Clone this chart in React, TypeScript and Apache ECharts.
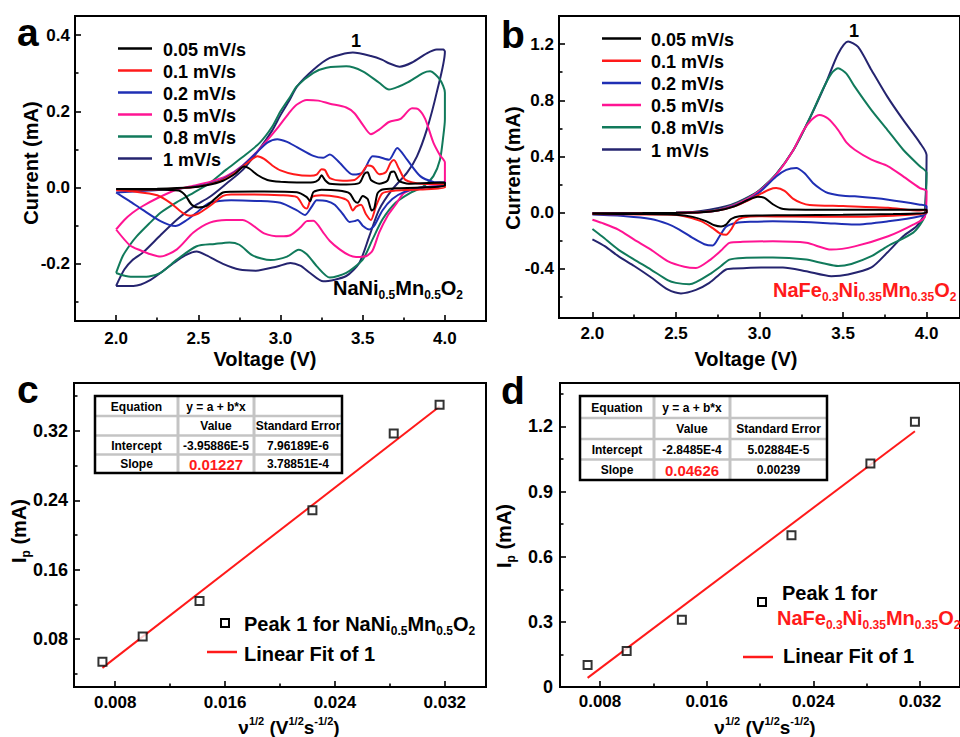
import React, { useEffect, useRef } from 'react';
import * as echarts from 'echarts';

const FONT = 'Arial, "Liberation Sans", Helvetica, sans-serif';

const SCAN_RATES = ['0.05 mV/s', '0.1 mV/s', '0.2 mV/s', '0.5 mV/s', '0.8 mV/s', '1 mV/s'];
const CV_COLORS = ['#000000', '#ff1a1a', '#1f2fb4', '#ff1493', '#117a5b', '#25246f'];

// ---------- Panel a: NaNi0.5Mn0.5O2 (voltage V, current mA) ----------
const A_005 = [
  [2.0, -0.004], [2.25, -0.003], [2.45, 0.0], [2.55, 0.006], [2.65, 0.018], [2.72, 0.035], [2.78, 0.055], [2.81, 0.05], [2.86, 0.033], [2.92, 0.02], [3.0, 0.015], [3.1, 0.013], [3.2, 0.014], [3.23, 0.02], [3.25, 0.032], [3.27, 0.02], [3.3, 0.01], [3.4, 0.008], [3.48, 0.012], [3.51, 0.036], [3.53, 0.04], [3.55, 0.02], [3.6, 0.01], [3.65, 0.018], [3.67, 0.04], [3.69, 0.042], [3.72, 0.018], [3.78, 0.01], [3.9, 0.012], [4.0, 0.013],
  [4.0, 0.005], [3.85, 0.0], [3.7, -0.002], [3.62, -0.005], [3.59, -0.015], [3.57, -0.055], [3.555, -0.06], [3.53, -0.03], [3.5, -0.022], [3.47, -0.04], [3.45, -0.035], [3.42, -0.015], [3.35, -0.008], [3.25, -0.006], [3.2, -0.012], [3.18, -0.036], [3.16, -0.025], [3.1, -0.012], [2.9, -0.01], [2.7, -0.011], [2.65, -0.013], [2.6, -0.03], [2.55, -0.048], [2.5, -0.052], [2.46, -0.045], [2.42, -0.02], [2.38, -0.008], [2.2, -0.005], [2.0, -0.004],
];
const A_01 = [
  [2.0, -0.006], [2.25, -0.005], [2.45, 0.0], [2.55, 0.007], [2.65, 0.02], [2.72, 0.038], [2.8, 0.065], [2.86, 0.082], [2.9, 0.075], [2.95, 0.058], [3.0, 0.045], [3.08, 0.035], [3.18, 0.031], [3.22, 0.034], [3.25, 0.048], [3.27, 0.046], [3.3, 0.025], [3.38, 0.018], [3.45, 0.02], [3.49, 0.035], [3.53, 0.058], [3.56, 0.055], [3.6, 0.035], [3.64, 0.04], [3.67, 0.065], [3.69, 0.072], [3.72, 0.05], [3.76, 0.02], [3.85, 0.01], [4.0, 0.009],
  [4.0, 0.0], [3.85, -0.005], [3.7, -0.008], [3.62, -0.015], [3.58, -0.05], [3.55, -0.085], [3.52, -0.07], [3.49, -0.045], [3.46, -0.05], [3.44, -0.06], [3.41, -0.035], [3.35, -0.025], [3.25, -0.02], [3.19, -0.025], [3.16, -0.055], [3.14, -0.05], [3.1, -0.025], [3.0, -0.02], [2.8, -0.018], [2.7, -0.018], [2.65, -0.022], [2.58, -0.045], [2.5, -0.068], [2.45, -0.074], [2.4, -0.065], [2.33, -0.04], [2.25, -0.02], [2.1, -0.01], [2.0, -0.007],
];
const A_02 = [
  [2.0, -0.013], [2.2, -0.008], [2.4, -0.002], [2.55, 0.008], [2.65, 0.022], [2.75, 0.05], [2.85, 0.09], [2.92, 0.118], [2.98, 0.127], [3.04, 0.12], [3.1, 0.106], [3.2, 0.083], [3.26, 0.078], [3.3, 0.087], [3.36, 0.065], [3.44, 0.034], [3.5, 0.04], [3.56, 0.082], [3.6, 0.08], [3.66, 0.073], [3.71, 0.104], [3.77, 0.073], [3.85, 0.03], [3.93, 0.015], [4.0, 0.013],
  [4.0, 0.005], [3.85, 0.0], [3.75, -0.012], [3.68, -0.03], [3.62, -0.06], [3.57, -0.1], [3.54, -0.11], [3.5, -0.1], [3.47, -0.085], [3.45, -0.088], [3.42, -0.09], [3.38, -0.07], [3.33, -0.045], [3.28, -0.035], [3.22, -0.033], [3.19, -0.05], [3.15, -0.072], [3.1, -0.06], [3.0, -0.04], [2.85, -0.035], [2.7, -0.033], [2.57, -0.04], [2.5, -0.062], [2.43, -0.085], [2.36, -0.101], [2.27, -0.088], [2.16, -0.058], [2.08, -0.035], [2.0, -0.013],
];
const A_05 = [
  [2.0, -0.11], [2.05, -0.085], [2.1, -0.066], [2.16, -0.049], [2.25, -0.028], [2.37, -0.005], [2.47, 0.005], [2.57, 0.015], [2.67, 0.03], [2.77, 0.058], [2.87, 0.1], [2.98, 0.155], [3.06, 0.2], [3.1, 0.218], [3.16, 0.23], [3.23, 0.228], [3.3, 0.22], [3.4, 0.21], [3.45, 0.195], [3.5, 0.165], [3.55, 0.14], [3.6, 0.152], [3.66, 0.172], [3.73, 0.18], [3.8, 0.208], [3.84, 0.205], [3.88, 0.18], [3.93, 0.118], [3.97, 0.085], [4.0, 0.066],
  [4.0, 0.01], [3.9, 0.002], [3.82, -0.003], [3.75, -0.015], [3.7, -0.045], [3.65, -0.075], [3.6, -0.118], [3.56, -0.165], [3.52, -0.18], [3.46, -0.182], [3.42, -0.178], [3.36, -0.162], [3.3, -0.14], [3.26, -0.118], [3.2, -0.087], [3.16, -0.088], [3.12, -0.105], [3.06, -0.125], [3.0, -0.128], [2.9, -0.12], [2.77, -0.085], [2.67, -0.085], [2.57, -0.092], [2.47, -0.118], [2.37, -0.162], [2.27, -0.181], [2.21, -0.175], [2.15, -0.165], [2.085, -0.152], [2.0, -0.11],
];
const A_08 = [
  [2.0, -0.224], [2.04, -0.18], [2.085, -0.15], [2.125, -0.128], [2.2, -0.095], [2.27, -0.066], [2.37, -0.038], [2.47, -0.014], [2.57, 0.012], [2.67, 0.047], [2.77, 0.08], [2.875, 0.118], [2.95, 0.16], [3.0, 0.2], [3.06, 0.239], [3.1, 0.266], [3.2, 0.301], [3.28, 0.314], [3.4, 0.318], [3.5, 0.305], [3.6, 0.275], [3.66, 0.257], [3.72, 0.265], [3.77, 0.275], [3.87, 0.301], [3.91, 0.305], [3.97, 0.283], [4.0, 0.249],
  [4.0, 0.18], [3.99, 0.134], [3.97, 0.073], [3.93, 0.03], [3.87, 0.003], [3.79, -0.014], [3.7, -0.04], [3.62, -0.084], [3.56, -0.136], [3.5, -0.189], [3.4, -0.224], [3.3, -0.236], [3.22, -0.206], [3.16, -0.175], [3.11, -0.163], [3.04, -0.181], [2.94, -0.19], [2.83, -0.178], [2.75, -0.15], [2.69, -0.144], [2.6, -0.148], [2.49, -0.154], [2.37, -0.189], [2.27, -0.224], [2.2, -0.233], [2.1, -0.234], [2.04, -0.23], [2.0, -0.224],
];
const A_1 = [
  [2.0, -0.258], [2.05, -0.215], [2.1, -0.19], [2.164, -0.17], [2.27, -0.125], [2.371, -0.084], [2.47, -0.05], [2.571, -0.024], [2.67, 0.01], [2.772, 0.047], [2.87, 0.1], [2.95, 0.15], [3.0, 0.19], [3.057, 0.231], [3.1, 0.265], [3.2, 0.309], [3.3, 0.34], [3.44, 0.354], [3.55, 0.345], [3.62, 0.335], [3.66, 0.326], [3.725, 0.317], [3.8, 0.328], [3.89, 0.352], [3.95, 0.362], [3.99, 0.362], [4.0, 0.357],
  [3.95, 0.249], [3.89, 0.152], [3.83, 0.082], [3.77, 0.039], [3.68, -0.005], [3.6, -0.058], [3.54, -0.128], [3.48, -0.197], [3.4, -0.232], [3.26, -0.246], [3.18, -0.224], [3.12, -0.205], [3.06, -0.198], [2.98, -0.207], [2.85, -0.218], [2.75, -0.215], [2.65, -0.2], [2.55, -0.178], [2.49, -0.168], [2.42, -0.178], [2.35, -0.198], [2.21, -0.242], [2.105, -0.258], [2.0, -0.258],
];

// ---------- Panel b: NaFe0.3Ni0.35Mn0.35O2 ----------
const B_005 = [
  [2.0, -0.005], [2.3, -0.003], [2.5, -0.001], [2.65, 0.003], [2.75, 0.015], [2.85, 0.045], [2.93, 0.09], [2.99, 0.113], [3.03, 0.105], [3.08, 0.06], [3.13, 0.03], [3.2, 0.022], [3.5, 0.02], [3.8, 0.02], [4.0, 0.02],
  [4.0, 0.0], [3.8, -0.01], [3.5, -0.015], [3.2, -0.018], [3.0, -0.02], [2.88, -0.025], [2.83, -0.045], [2.8, -0.085], [2.77, -0.098], [2.73, -0.09], [2.68, -0.06], [2.6, -0.03], [2.5, -0.015], [2.3, -0.01], [2.0, -0.008],
];
const B_01 = [
  [2.0, -0.01], [2.3, -0.005], [2.5, -0.002], [2.65, 0.003], [2.75, 0.015], [2.85, 0.045], [2.93, 0.085], [3.0, 0.13], [3.06, 0.165], [3.1, 0.175], [3.15, 0.155], [3.2, 0.1], [3.25, 0.07], [3.3, 0.055], [3.5, 0.047], [3.77, 0.035], [3.96, 0.015], [4.0, 0.02],
  [4.0, 0.0], [3.9, -0.015], [3.57, -0.03], [3.2, -0.028], [3.0, -0.026], [2.9, -0.035], [2.86, -0.06], [2.83, -0.12], [2.8, -0.158], [2.76, -0.145], [2.72, -0.11], [2.65, -0.06], [2.55, -0.025], [2.45, -0.014], [2.2, -0.012], [2.0, -0.01],
];
const B_02 = [
  [2.0, -0.01], [2.3, -0.005], [2.5, -0.002], [2.65, 0.003], [2.75, 0.015], [2.85, 0.05], [2.93, 0.09], [3.0, 0.145], [3.1, 0.258], [3.16, 0.305], [3.22, 0.318], [3.27, 0.28], [3.32, 0.211], [3.37, 0.165], [3.41, 0.14], [3.5, 0.12], [3.57, 0.116], [3.77, 0.092], [3.96, 0.057], [4.0, 0.045],
  [4.0, 0.0], [3.96, -0.026], [3.77, -0.062], [3.57, -0.085], [3.38, -0.073], [3.08, -0.062], [2.95, -0.065], [2.86, -0.073], [2.8, -0.1], [2.76, -0.17], [2.72, -0.234], [2.67, -0.225], [2.6, -0.18], [2.52, -0.12], [2.45, -0.08], [2.35, -0.045], [2.2, -0.025], [2.0, -0.014],
];
const B_05 = [
  [2.0, -0.005], [2.3, -0.003], [2.5, -0.001], [2.65, 0.004], [2.75, 0.018], [2.85, 0.055], [2.93, 0.1], [3.0, 0.155], [3.1, 0.27], [3.2, 0.44], [3.26, 0.58], [3.31, 0.66], [3.36, 0.696], [3.41, 0.67], [3.47, 0.59], [3.52, 0.5], [3.57, 0.448], [3.67, 0.377], [3.77, 0.33], [3.86, 0.258], [3.96, 0.175], [4.0, 0.152],
  [3.99, -0.03], [3.92, -0.085], [3.77, -0.168], [3.57, -0.24], [3.43, -0.263], [3.28, -0.215], [3.08, -0.204], [2.9, -0.208], [2.82, -0.215], [2.77, -0.27], [2.7, -0.34], [2.62, -0.394], [2.55, -0.385], [2.45, -0.345], [2.35, -0.263], [2.25, -0.192], [2.155, -0.121], [2.057, -0.073], [2.0, -0.05],
];
const B_08 = [
  [2.0, -0.005], [2.3, -0.003], [2.5, -0.001], [2.65, 0.005], [2.75, 0.02], [2.85, 0.06], [2.93, 0.105], [3.0, 0.16], [3.1, 0.275], [3.2, 0.44], [3.3, 0.67], [3.38, 0.88], [3.43, 0.99], [3.47, 1.028], [3.52, 0.99], [3.57, 0.897], [3.67, 0.73], [3.765, 0.59], [3.86, 0.448], [3.96, 0.33], [4.0, 0.284],
  [3.99, 0.0], [3.98, -0.05], [3.92, -0.142], [3.765, -0.24], [3.67, -0.31], [3.55, -0.365], [3.47, -0.38], [3.38, -0.36], [3.28, -0.334], [3.08, -0.32], [2.9, -0.322], [2.82, -0.334], [2.77, -0.38], [2.7, -0.44], [2.62, -0.495], [2.58, -0.51], [2.5, -0.5], [2.45, -0.48], [2.35, -0.405], [2.25, -0.334], [2.155, -0.263], [2.057, -0.168], [2.0, -0.116],
];
const B_1 = [
  [2.0, -0.005], [2.3, -0.003], [2.5, 0.0], [2.6, 0.005], [2.7, 0.02], [2.8, 0.045], [2.87, 0.075], [2.94, 0.115], [3.0, 0.16], [3.1, 0.275], [3.2, 0.44], [3.3, 0.67], [3.4, 0.93], [3.47, 1.13], [3.53, 1.218], [3.59, 1.18], [3.67, 1.016], [3.765, 0.826], [3.86, 0.66], [3.96, 0.497], [4.0, 0.41],
  [3.99, 0.0], [3.98, -0.03], [3.94, -0.097], [3.86, -0.168], [3.765, -0.284], [3.67, -0.39], [3.53, -0.44], [3.43, -0.452], [3.28, -0.417], [3.14, -0.39], [3.01, -0.39], [2.85, -0.398], [2.8, -0.405], [2.76, -0.44], [2.7, -0.5], [2.62, -0.55], [2.53, -0.575], [2.45, -0.547], [2.35, -0.46], [2.25, -0.38], [2.155, -0.31], [2.076, -0.24], [2.0, -0.19],
];

const A_CURVES = [A_005, A_01, A_02, A_05, A_08, A_1];
const B_CURVES = [B_005, B_01, B_02, B_05, B_08, B_1];

// ---------- Panels c & d: peak current vs sqrt(scan rate) ----------
const SQRT_RATE = [0.00707, 0.01, 0.01414, 0.02236, 0.02828, 0.03162];
const C_PEAK = [0.054, 0.083, 0.124, 0.2285, 0.317, 0.35];
const D_PEAK = [0.101, 0.166, 0.31, 0.699, 1.029, 1.221];
const C_FIT = [[0.00707, 0.047], [0.03162, 0.348]];
const D_FIT = [[0.00707, 0.042], [0.03162, 1.178]];

const TABLE_C = [
  ['Equation', 'y = a + b*x', ''],
  ['', 'Value', 'Standard Error'],
  ['Intercept', '-3.95886E-5', '7.96189E-6'],
  ['Slope', '0.01227', '3.78851E-4'],
];
const TABLE_D = [
  ['Equation', 'y = a + b*x', ''],
  ['', 'Value', 'Standard Error'],
  ['Intercept', '-2.8485E-4', '5.02884E-5'],
  ['Slope', '0.04626', '0.00239'],
];

// ---------- Ticks ----------
const AB_X_TICKS = [2.0, 2.5, 3.0, 3.5, 4.0];
const AB_X_MINOR = [2.25, 2.75, 3.25, 3.75];
const A_Y_TICKS = [-0.2, 0.0, 0.2, 0.4];
const A_Y_MINOR = [-0.3, -0.1, 0.1, 0.3];
const B_Y_TICKS = [-0.4, 0.0, 0.4, 0.8, 1.2];
const B_Y_MINOR = [-0.6, -0.2, 0.2, 0.6, 1.0];
const CD_X_TICKS = [0.008, 0.016, 0.024, 0.032];
const CD_X_MINOR = [0.012, 0.02, 0.028];
const C_Y_TICKS = [0.08, 0.16, 0.24, 0.32];
const C_Y_MINOR = [0.04, 0.12, 0.2, 0.28, 0.36];
const D_Y_TICKS = [0, 0.3, 0.6, 0.9, 1.2];
const D_Y_MINOR = [0.15, 0.45, 0.75, 1.05, 1.35];

function axisPair(dim: 'x' | 'y', gridIndex: number, min: number, max: number, major: number[], minor: number[], fmt: (v: number) => string, margin: number, fontSize: number) {
  const base: any = {
    type: 'value', gridIndex, min, max,
    position: dim === 'x' ? 'bottom' : 'left',
    splitLine: { show: false },
    axisLine: { show: false, onZero: false },
  };
  return [
    {
      ...base,
      axisTick: { show: true, inside: true, length: 6, customValues: major, lineStyle: { color: '#000', width: 1.6 } },
      axisLabel: { show: true, customValues: major, formatter: fmt, margin, color: '#000', fontSize, fontWeight: 'bold', fontFamily: FONT },
    },
    {
      ...base,
      axisTick: { show: true, inside: true, length: 3.5, customValues: minor, lineStyle: { color: '#000', width: 1.6 } },
      axisLabel: { show: false },
    },
  ];
}

function rich(size: number, color: string) {
  const sub = Math.round(size * 0.6);
  return {
    m: { fontSize: size, fontWeight: 'bold', fontFamily: FONT, fill: color, color, lineHeight: Math.round(size * 1.25), verticalAlign: 'middle' },
    sub: { fontSize: sub, fontWeight: 'bold', fontFamily: FONT, fill: color, color, lineHeight: 8, verticalAlign: 'bottom' },
    sup: { fontSize: sub, fontWeight: 'bold', fontFamily: FONT, fill: color, color, lineHeight: 14, verticalAlign: 'top' },
  };
}

function text(x: number, y: number, str: string, o: any = {}) {
  const align = o.align || 'center';
  return {
    type: 'text', x, y, rotation: o.rotation || 0, silent: true, z: 100,
    style: {
      text: str, fill: o.color || '#000',
      fontSize: o.size || 18, fontWeight: 'bold', fontFamily: FONT,
      align, textAlign: align, verticalAlign: 'middle', textVerticalAlign: 'middle',
      rich: o.rich,
    },
  };
}

function hline(x1: number, x2: number, y: number, color: string, w: number) {
  return { type: 'line', silent: true, z: 100, shape: { x1, y1: y, x2, y2: y }, style: { stroke: color, lineWidth: w } };
}

function table(cols: number[], rows: number[], cells: string[][]) {
  const els: any[] = [];
  els.push({ type: 'rect', silent: true, z: 90, shape: { x: cols[0], y: rows[0], width: cols[3] - cols[0], height: rows[4] - rows[0] }, style: { fill: '#fff', stroke: 'none' } });
  for (let i = 1; i < 4; i++) {
    els.push({ type: 'line', silent: true, z: 91, shape: { x1: cols[0], y1: rows[i], x2: cols[3], y2: rows[i] }, style: { stroke: '#c4c4c4', lineWidth: 2.5 } });
  }
  for (let j = 1; j < 3; j++) {
    els.push({ type: 'line', silent: true, z: 91, shape: { x1: cols[j], y1: rows[0], x2: cols[j], y2: rows[4] }, style: { stroke: '#c4c4c4', lineWidth: 3 } });
  }
  els.push({ type: 'rect', silent: true, z: 92, shape: { x: cols[0], y: rows[0], width: cols[3] - cols[0], height: rows[4] - rows[0] }, style: { fill: 'none', stroke: '#000', lineWidth: 2.5 } });
  cells.forEach((row, r) => {
    row.forEach((c, k) => {
      if (!c) return;
      const red = r === 3 && k === 1;
      els.push(text((cols[k] + cols[k + 1]) / 2, (rows[r] + rows[r + 1]) / 2 + 0.5, c, { size: red ? 15 : 12, color: red ? '#ff1a1a' : '#000' }));
    });
  });
  return els;
}

function buildOption() {
  const f1 = (v: number) => v.toFixed(1);
  const f2 = (v: number) => v.toFixed(2);
  const f3 = (v: number) => v.toFixed(3);
  const fd = (v: number) => (v === 0 ? '0' : v.toFixed(1));

  const [ax, axm] = axisPair('x', 0, 1.75, 4.25, AB_X_TICKS, AB_X_MINOR, f1, 9, 17);
  const [ay, aym] = axisPair('y', 0, -0.35, 0.45, A_Y_TICKS, A_Y_MINOR, f1, 5, 17);
  const [bx, bxm] = axisPair('x', 1, 1.8, 4.2, AB_X_TICKS, AB_X_MINOR, f1, 7, 17);
  const [by, bym] = axisPair('y', 1, -0.75, 1.4, B_Y_TICKS, B_Y_MINOR, f1, 5, 17);
  const [cx, cxm] = axisPair('x', 2, 0.005, 0.035, CD_X_TICKS, CD_X_MINOR, f3, 7, 17);
  const [cy, cym] = axisPair('y', 2, 0.025, 0.375, C_Y_TICKS, C_Y_MINOR, f2, 6, 18);
  const [dx, dxm] = axisPair('x', 3, 0.005, 0.035, CD_X_TICKS, CD_X_MINOR, f3, 6, 17);
  const [dy, dym] = axisPair('y', 3, 0, 1.4, D_Y_TICKS, D_Y_MINOR, fd, 7, 18);

  const gridBase = { show: true, borderColor: '#000', borderWidth: 2, backgroundColor: 'transparent' };

  const series: any[] = [];
  for (let i = 5; i >= 0; i--) {
    series.push({ type: 'line', name: SCAN_RATES[i], xAxisIndex: 0, yAxisIndex: 0, data: A_CURVES[i], symbol: 'none', smooth: 0.25, lineStyle: { color: CV_COLORS[i], width: 2 }, itemStyle: { color: CV_COLORS[i] } });
  }
  for (let i = 5; i >= 0; i--) {
    series.push({ type: 'line', name: SCAN_RATES[i], xAxisIndex: 2, yAxisIndex: 2, data: B_CURVES[i], symbol: 'none', smooth: 0.25, lineStyle: { color: CV_COLORS[i], width: 2 }, itemStyle: { color: CV_COLORS[i] } });
  }
  series.push({ type: 'line', name: 'Linear Fit of 1 (c)', xAxisIndex: 4, yAxisIndex: 4, data: C_FIT, symbol: 'none', lineStyle: { color: '#ff1a1a', width: 2 }, z: 2 });
  series.push({ type: 'scatter', name: 'Peak 1 (c)', xAxisIndex: 4, yAxisIndex: 4, data: SQRT_RATE.map((x, i) => [x, C_PEAK[i]]), symbol: 'rect', symbolSize: 8, itemStyle: { color: '#fff', borderColor: '#000', borderWidth: 2 }, z: 3 });
  series.push({ type: 'line', name: 'Linear Fit of 1 (d)', xAxisIndex: 6, yAxisIndex: 6, data: D_FIT, symbol: 'none', lineStyle: { color: '#ff1a1a', width: 2 }, z: 2 });
  series.push({ type: 'scatter', name: 'Peak 1 (d)', xAxisIndex: 6, yAxisIndex: 6, data: SQRT_RATE.map((x, i) => [x, D_PEAK[i]]), symbol: 'rect', symbolSize: 8, itemStyle: { color: '#fff', borderColor: '#000', borderWidth: 2 }, z: 3 });

  const graphic: any[] = [];
  // panel letters
  graphic.push(text(17, 32, 'a', { size: 39, align: 'left' }));
  graphic.push(text(501, 34, 'b', { size: 39, align: 'left' }));
  graphic.push(text(17, 389, 'c', { size: 39, align: 'left' }));
  graphic.push(text(501, 390, 'd', { size: 39, align: 'left' }));

  // axis titles
  graphic.push(text(31, 163, 'Current (mA)', { size: 20, rotation: Math.PI / 2 }));
  graphic.push(text(265, 359, 'Voltage (V)', { size: 20 }));
  graphic.push(text(513, 168, 'Current (mA)', { size: 20, rotation: Math.PI / 2 }));
  graphic.push(text(746, 359, 'Voltage (V)', { size: 20 }));
  graphic.push(text(19, 531, '{m|I}{sub|p}{m| (mA)}', { size: 20, rotation: Math.PI / 2, rich: rich(20, '#000') }));
  graphic.push(text(504, 536, '{m|I}{sub|p}{m| (mA)}', { size: 20, rotation: Math.PI / 2, rich: rich(20, '#000') }));
  const nuLabel = '{m|ν}{sup|1/2}{m| (V}{sup|1/2}{m|s}{sup|-1/2}{m|)}';
  graphic.push(text(289, 727, nuLabel, { size: 19, rich: rich(19, '#000') }));
  graphic.push(text(765, 727, nuLabel, { size: 19, rich: rich(19, '#000') }));

  // legends a & b
  const legA = { x1: 118, x2: 152, tx: 163, y0: 48.5, dy: 22 };
  const legB = { x1: 602, x2: 641, tx: 651, y0: 38.5, dy: 22.2 };
  [legA, legB].forEach((L) => {
    SCAN_RATES.forEach((name, i) => {
      const y = L.y0 + i * L.dy;
      graphic.push(hline(L.x1, L.x2, y, CV_COLORS[i], 2.5));
      graphic.push(text(L.tx, y + 1, name, { size: 18, align: 'left' }));
    });
  });

  // peak labels and compound names
  graphic.push(text(356, 41, '1', { size: 18 }));
  graphic.push(text(854, 31, '1', { size: 18 }));
  graphic.push(text(333, 288, '{m|NaNi}{sub|0.5}{m|Mn}{sub|0.5}{m|O}{sub|2}', { size: 20, align: 'left', rich: rich(20, '#000') }));
  graphic.push(text(773, 290, '{m|NaFe}{sub|0.3}{m|Ni}{sub|0.35}{m|Mn}{sub|0.35}{m|O}{sub|2}', { size: 20, align: 'left', color: '#ff1a1a', rich: rich(20, '#ff1a1a') }));

  // legend c
  graphic.push({ type: 'rect', silent: true, z: 100, shape: { x: 221, y: 619, width: 8, height: 8 }, style: { fill: '#fff', stroke: '#000', lineWidth: 2 } });
  graphic.push(text(244, 624, '{m|Peak 1 for NaNi}{sub|0.5}{m|Mn}{sub|0.5}{m|O}{sub|2}', { size: 20, align: 'left', rich: rich(20, '#000') }));
  graphic.push(hline(207, 237, 652, '#ff1a1a', 2.5));
  graphic.push(text(244, 654, 'Linear Fit of 1', { size: 20, align: 'left' }));

  // legend d
  graphic.push({ type: 'rect', silent: true, z: 100, shape: { x: 758, y: 598, width: 8, height: 8 }, style: { fill: '#fff', stroke: '#000', lineWidth: 2 } });
  graphic.push(text(782, 593, 'Peak 1 for', { size: 20, align: 'left' }));
  graphic.push(text(777, 618, '{m|NaFe}{sub|0.3}{m|Ni}{sub|0.35}{m|Mn}{sub|0.35}{m|O}{sub|2}', { size: 20, align: 'left', color: '#ff1a1a', rich: rich(20, '#ff1a1a') }));
  graphic.push(hline(743, 773, 657, '#ff1a1a', 2.5));
  graphic.push(text(783, 656, 'Linear Fit of 1', { size: 20, align: 'left' }));

  // fit tables
  graphic.push(...table([95, 178, 254, 342], [396, 416, 435.5, 454.5, 473], TABLE_C));
  graphic.push(...table([580, 654, 730, 827], [396, 418, 439, 459.5, 480], TABLE_D));

  return {
    animation: false,
    backgroundColor: '#fff',
    textStyle: { fontFamily: FONT },
    grid: [
      { ...gridBase, left: 75, top: 16, width: 411, height: 305 },
      { ...gridBase, left: 559, top: 16, width: 408, height: 302 },
      { ...gridBase, left: 74, top: 383, width: 412, height: 304 },
      { ...gridBase, left: 560, top: 383, width: 409, height: 304 },
    ],
    xAxis: [ax, axm, bx, bxm, cx, cxm, dx, dxm],
    yAxis: [ay, aym, by, bym, cy, cym, dy, dym],
    series,
    graphic,
  };
}

export default function App() {
  const ref = useRef<HTMLDivElement>(null);
  useEffect(() => {
    const chart = echarts.init(ref.current as HTMLDivElement, null, { renderer: 'svg' });
    chart.setOption(buildOption() as any);
    return () => chart.dispose();
  }, []);
  return <div ref={ref} style={{ position: 'absolute', left: 0, top: 0, width: 960, height: 737 }} />;
}
